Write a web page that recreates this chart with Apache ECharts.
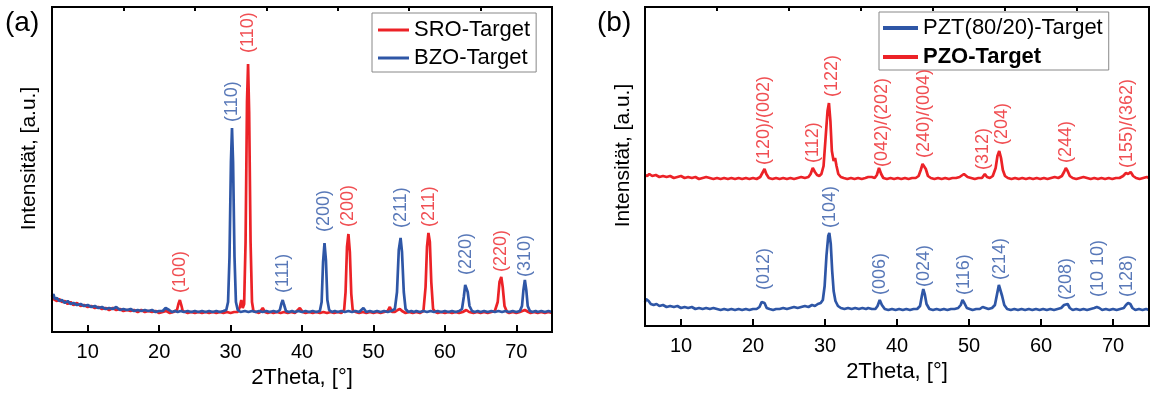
<!DOCTYPE html>
<html>
<head>
<meta charset="utf-8">
<script src="https://cdn.jsdelivr.net/npm/echarts@6/dist/echarts.min.js"></script>
<style>html,body{margin:0;padding:0;background:#fff;}#c{width:1152px;height:394px;}</style>
</head>
<body>
<div id="c"></div>
<script>
// ---------- data ----------
const xTickLabels = [10, 20, 30, 40, 50, 60, 70];
const xMinorTicks = [15, 25, 35, 45, 55, 65];

// Panel (a)
const sroTarget = [[5,37],[5.2,33],[5.4,35],[5.7,31],[6,33],[6.4,30],[6.8,31],[7.2,28],[7.6,30],[8,27],[8.5,29],[9,26],[9.5,27],[10,25],[10.5,26],[11,24],[11.5,25],[12,23],[12.5,24],[13,22],[13.5,24],[14,22],[14.5,23],[15,21],[15.5,22],[16,21],[16.5,22],[17,20],[17.5,22],[18,20],[18.5,21],[19,20],[19.5,21],[20,19],[20.5,20],[21,21],[21.5,19],[22,20],[22.5,22],[22.7,28],[22.9,32],[23.1,27],[23.3,21],[23.7,20],[24,19],[24.5,20],[25,19],[25.5,20],[26,19],[26.5,20],[27,19],[27.5,20],[28,19],[28.5,20],[29,19],[29.5,20],[30,19],[30.5,20],[31,20],[31.3,25],[31.5,32],[31.7,24],[31.9,28],[32.1,90],[32.3,230],[32.45,268],[32.6,220],[32.8,90],[33.0,30],[33.2,21],[33.6,20],[34,19],[34.5,24],[34.8,20],[35.2,19],[35.6,20],[36,19],[36.5,20],[37,19],[37.5,20],[38,19],[38.5,20],[39,19],[39.7,24],[40.1,20],[40.5,19],[41,20],[41.5,19],[42,20],[42.5,19],[43,20],[43.5,19],[44,20],[44.5,19],[45,20],[45.5,19],[45.9,22],[46.1,40],[46.3,85],[46.5,98],[46.7,80],[46.9,38],[47.1,22],[47.5,20],[48,19],[48.5,20],[49,19],[49.5,20],[50,19],[50.5,20],[51,19],[51.5,20],[52,21],[52.3,25],[52.6,20],[53,20],[53.4,22],[53.7,23],[54,21],[54.5,19],[55,20],[55.5,19],[56,20],[56.5,19],[57,21],[57.3,45],[57.5,85],[57.7,99],[57.9,90],[58.1,50],[58.35,23],[58.7,20],[59,19],[59.5,20],[60,19],[60.5,20],[61,19],[61.5,20],[62,19],[62.5,20],[63,22],[63.4,20],[64,19],[64.5,20],[65,19],[65.5,20],[66,19],[66.5,20],[67,21],[67.4,30],[67.65,50],[67.9,55],[68.1,45],[68.35,26],[68.7,20],[69,19],[69.5,20],[70,19],[70.5,20],[71.2,22],[71.7,20],[72,19],[72.5,20],[73,19],[73.5,20],[74,19],[74.5,20],[75,19]];
const bzoTarget = [[5,35],[5.2,38],[5.4,33],[5.7,34],[6,31],[6.4,32],[6.8,29],[7.2,31],[7.6,28],[8,29],[8.5,27],[9,28],[9.5,26],[10,27],[10.5,25],[11,26],[11.5,24],[12,25],[12.5,23],[13,24],[13.5,23],[14,25],[14.5,22],[15,23],[15.5,22],[16,23],[16.5,21],[17,22],[17.5,21],[18,22],[18.5,21],[19,22],[19.5,20],[20,21],[20.5,21],[20.9,24],[21.1,26],[21.4,22],[21.8,20],[22.2,21],[22.6,20],[23,21],[23.5,20],[24,21],[24.5,20],[25,21],[25.5,20],[26,21],[26.5,20],[27,21],[27.5,20],[28,21],[28.5,20],[29,21],[29.4,22],[29.65,30],[29.85,75],[30.05,170],[30.2,204],[30.35,170],[30.55,75],[30.75,30],[31.0,22],[31.4,20],[32,21],[32.5,20],[33,21],[33.5,20],[34,21],[34.5,20],[35,21],[35.5,20],[36,21],[36.5,20],[36.9,22],[37.1,28],[37.3,32],[37.5,27],[37.75,21],[38.2,20],[38.6,21],[39,20],[39.5,21],[40,20],[40.5,21],[41,20],[41.5,21],[42,20],[42.5,21],[42.75,30],[42.95,70],[43.15,89],[43.35,72],[43.55,32],[43.8,22],[44.2,20],[44.6,21],[45,20],[45.5,21],[46,20],[46.5,21],[47,20],[47.5,21],[48,20],[48.6,24],[49,20],[49.5,21],[50,20],[50.5,21],[51,20],[51.5,21],[52,20],[52.5,21],[53,23],[53.3,40],[53.55,82],[53.8,94],[54.0,80],[54.25,40],[54.5,23],[54.9,20],[55.3,21],[55.7,20],[56,21],[56.5,20],[57,21],[57.5,20],[58,21],[58.5,20],[59,21],[59.5,20],[60,21],[60.5,20],[61,21],[61.5,20],[62,21],[62.4,23],[62.65,35],[62.85,47],[63.0,49],[63.2,40],[63.45,26],[63.8,21],[64.2,20],[64.6,21],[65,20],[65.5,21],[66,20],[66.5,21],[67,20],[67.5,21],[68,20],[68.5,21],[69,20],[69.5,21],[70,20],[70.5,21],[70.8,26],[71.0,42],[71.2,52],[71.4,42],[71.6,26],[71.9,21],[72.3,20],[72.7,21],[73,20],[73.5,21],[74,20],[74.5,21],[75,20]];
const sroLabels = [[22.9,39,'(100)'],[32.45,279,'(110)'],[46.5,105,'(200)'],[57.8,105,'(211)'],[67.9,60,'(220)']];
const bzoLabels = [[30.25,210,'(110)'],[37.3,39,'(111)'],[43.15,100,'(200)'],[53.8,104,'(211)'],[63.0,57,'(220)'],[71.2,55,'(310)']];

// Panel (b)
const pztTarget = [[5,24],[5.15,27],[5.3,29],[5.5,25],[5.8,22],[6.2,21],[6.6,22],[7,20],[7.5,21],[8,19],[8.5,20],[9,19],[9.5,20],[10,18],[10.5,19],[11,18],[11.5,19],[12,17],[12.5,18],[13,17],[13.5,18],[14,17],[14.5,18],[15,17],[15.5,16],[16,17],[16.5,16],[17,17],[17.5,16],[18,17],[18.5,16],[19,17],[19.5,16],[20,17],[20.5,17],[20.9,19],[21.2,24],[21.4,26],[21.6,23],[21.9,18],[22.3,17],[22.8,16],[23.2,17],[23.7,17],[24.2,18],[24.7,17],[25.2,18],[25.7,19],[26.2,18],[26.7,19],[27.2,20],[27.7,19],[28.2,21],[28.6,20],[29,22],[29.4,23],[29.7,26],[29.95,40],[30.2,70],[30.45,90],[30.6,93],[30.8,82],[31.0,55],[31.2,35],[31.45,25],[31.8,20],[32.2,18],[32.7,17],[33.2,18],[33.7,17],[34.2,18],[34.7,17],[35.2,18],[35.7,17],[36.0,18],[36.25,20],[36.5,17],[37,17],[37.3,20],[37.6,26],[37.9,21],[38.3,17],[38.8,16],[39.3,17],[39.8,16],[40.3,17],[40.8,16],[41.3,17],[41.8,16],[42.3,17],[42.8,17],[43.2,20],[43.45,30],[43.65,37],[43.85,32],[44.1,22],[44.5,17],[45,16],[45.5,17],[46,16],[46.5,17],[47,16],[47.5,17],[48,17],[48.5,18],[48.85,21],[49.1,26],[49.35,23],[49.7,18],[50.1,17],[50.5,16],[51,17],[51.5,17],[51.9,19],[52.3,18],[52.7,17],[53.2,18],[53.6,21],[53.9,32],[54.15,41],[54.35,40],[54.6,30],[54.9,21],[55.3,17],[55.8,16],[56.3,17],[56.8,16],[57.3,17],[57.8,16],[58.3,17],[58.8,16],[59.3,17],[59.8,16],[60.3,17],[60.8,16],[61.3,17],[61.8,16],[62.3,17],[62.8,18],[63.2,21],[63.45,23],[63.7,22],[64,18],[64.4,16],[64.9,17],[65.4,16],[65.9,17],[66.4,16],[66.9,17],[67.4,18],[67.75,19],[68.1,18],[68.5,16],[69,17],[69.5,16],[70,17],[70.5,16],[71,17],[71.5,18],[71.8,21],[72.1,23],[72.4,22],[72.7,18],[73.1,16],[73.6,17],[74.1,16],[74.6,17],[75,16]];
const pzoTarget = [[5,151],[5.3,150],[5.6,152],[6,150],[6.5,151],[7,149],[7.5,150],[8,149],[8.5,150],[9,148],[9.5,149],[10,150],[10.5,148],[11,149],[11.5,148],[12,149],[12.5,147],[13,148],[13.5,149],[14,148],[14.5,147],[15,148],[15.5,147],[16,148],[16.5,147],[17,148],[17.5,147],[18,148],[18.5,147],[19,148],[19.5,147],[20,148],[20.5,147],[21,149],[21.3,153],[21.6,157],[21.85,152],[22.2,148],[22.7,147],[23.2,148],[23.7,147],[24.2,148],[24.7,147],[25.2,148],[25.7,147],[26.2,148],[26.7,149],[27.2,148],[27.7,149],[28.0,152],[28.3,158],[28.6,154],[28.9,151],[29.2,150],[29.5,152],[29.8,160],[30.1,190],[30.35,215],[30.55,223],[30.75,205],[30.95,175],[31.2,165],[31.4,168],[31.6,160],[31.85,152],[32.2,149],[32.6,148],[33.1,147],[33.6,148],[34.1,147],[34.6,148],[35.1,147],[35.6,148],[36.0,149],[36.25,151],[36.5,149],[36.9,148],[37.2,151],[37.5,158],[37.8,152],[38.1,148],[38.6,147],[39.1,148],[39.6,147],[40.1,148],[40.6,147],[41.1,148],[41.6,147],[42.1,148],[42.6,148],[43.0,150],[43.3,156],[43.55,162],[43.75,163],[44.0,157],[44.3,150],[44.7,148],[45.2,147],[45.7,148],[46.2,147],[46.7,148],[47.2,147],[47.7,148],[48.2,148],[48.7,149],[49.3,152],[49.8,149],[50.3,148],[50.8,147],[51.3,148],[51.8,148],[52.2,152],[52.5,149],[52.9,148],[53.3,150],[53.7,158],[53.95,170],[54.2,175],[54.45,168],[54.7,156],[55.0,150],[55.4,148],[55.9,147],[56.4,148],[56.9,147],[57.4,148],[57.9,147],[58.4,148],[58.9,147],[59.4,148],[59.9,147],[60.4,148],[60.9,147],[61.4,148],[61.9,149],[62.4,148],[62.9,150],[63.2,154],[63.45,158],[63.7,155],[64.0,150],[64.4,148],[64.9,147],[65.4,148],[65.9,149],[66.4,148],[66.9,147],[67.4,148],[67.9,147],[68.4,148],[68.9,147],[69.4,148],[69.9,147],[70.4,148],[70.9,148],[71.4,150],[71.8,153],[72.1,152],[72.45,154],[72.8,150],[73.2,148],[73.7,147],[74.2,148],[74.7,149],[75,148]];
const pzoLabels = [[21.6,161,'(120)/(002)'],[28.3,163,'(112)'],[31.0,229,'(122)'],[37.9,159,'(042)/(202)'],[43.7,168,'(240)/(004)'],[52.0,156,'(312)'],[54.6,181,'(204)'],[63.5,163,'(244)'],[72.0,158,'(155)/(362)']];
const pztLabels = [[21.5,36,'(012)'],[30.7,98,'(104)'],[37.7,31,'(006)'],[43.7,39,'(024)'],[49.3,31,'(116)'],[54.3,46,'(214)'],[63.5,26,'(208)'],[67.9,29,'(10 10)'],[72.0,29,'(128)']];

// ---------- styles ----------
const RED = '#ec2227';
const BLUE = '#2e56a6';
const FONT = 'Liberation Sans, Arial, sans-serif';

function mainX(gridIndex) {
  return {
    type: 'value', gridIndex, min: 5, max: 75,
    name: '2Theta, [°]', nameLocation: 'middle', nameGap: 32,
    nameTextStyle: { fontSize: 22, color: '#000', fontFamily: FONT },
    axisLine: { show: false },
    axisTick: { show: true, inside: true, length: 7, customValues: xTickLabels, lineStyle: { color: '#000', width: 2 } },
    axisLabel: { show: true, customValues: xTickLabels, margin: 10, fontSize: 20, color: '#000', fontFamily: FONT },
    splitLine: { show: false }
  };
}
function minorX(gridIndex) {
  return {
    type: 'value', gridIndex, min: 5, max: 75,
    axisLine: { show: false },
    axisTick: { show: true, inside: true, length: 4, customValues: xMinorTicks, lineStyle: { color: '#000', width: 2 } },
    axisLabel: { show: false },
    splitLine: { show: false }
  };
}
function yAx(gridIndex, max, gap, shift) {
  return {
    type: 'value', gridIndex, min: 0, max,
    name: 'Intensität, [a.u.]', nameLocation: 'middle', nameGap: gap,
    nameTextStyle: { fontSize: 21, color: '#000', fontFamily: FONT, padding: [0, 0, 0, shift] },
    axisLine: { show: false }, axisTick: { show: false }, axisLabel: { show: false }, splitLine: { show: false }
  };
}
function lineSeries(name, data, color, xIdx, yIdx) {
  return {
    name, type: 'line', data, xAxisIndex: xIdx, yAxisIndex: yIdx,
    showSymbol: false, symbol: 'none', color,
    lineStyle: { color, width: 2.7 }, animation: false, z: 3
  };
}
function labelSeries(arr, color, xIdx, yIdx) {
  return {
    type: 'scatter', xAxisIndex: xIdx, yAxisIndex: yIdx, symbolSize: 0, silent: true, animation: false, z: 4,
    data: arr.map(d => ({ value: [d[0], d[1]], name: d[2] })),
    label: {
      show: true, formatter: '{b}', position: 'top', distance: 0, rotate: 90,
      align: 'left', verticalAlign: 'middle', color, fontSize: 18, fontFamily: FONT
    }
  };
}

const chart = echarts.init(document.getElementById('c'), null, { renderer: 'canvas' });
chart.setOption({
  animation: false,
  backgroundColor: '#fff',
  textStyle: { fontFamily: FONT },
  title: [
    { text: '(a)', left: 5, top: 9, padding: 0, textStyle: { fontSize: 28, fontWeight: 'normal', color: '#000', fontFamily: FONT } },
    { text: '(b)', left: 597, top: 9, padding: 0, textStyle: { fontSize: 28, fontWeight: 'normal', color: '#000', fontFamily: FONT } }
  ],
  grid: [
    { left: 52, top: 7, width: 500, height: 325, show: true, borderColor: '#000', borderWidth: 2, backgroundColor: 'transparent', z: 5 },
    { left: 645, top: 7, width: 504, height: 319, show: true, borderColor: '#000', borderWidth: 2, backgroundColor: 'transparent', z: 5 }
  ],
  legend: [
    {
      data: ['SRO-Target', 'BZO-Target'], orient: 'vertical', left: 372, top: 13,
      padding: [5, 6, 2, 6], itemGap: 4, itemWidth: 31, itemHeight: 3, icon: 'rect',
      borderColor: '#888', borderWidth: 1, backgroundColor: '#fff',
      textStyle: { fontSize: 22, color: '#000', fontFamily: FONT, lineHeight: 24 }
    },
    {
      data: [{ name: 'PZT(80/20)-Target' }, { name: 'PZO-Target', textStyle: { fontWeight: 'bold' } }],
      orient: 'vertical', left: 879, top: 12,
      padding: [4, 6, 1, 4], itemGap: 5, itemWidth: 35, itemHeight: 4, icon: 'rect',
      borderColor: '#888', borderWidth: 1, backgroundColor: '#fff',
      textStyle: { fontSize: 22, color: '#000', fontFamily: FONT, lineHeight: 24 }
    }
  ],
  xAxis: [mainX(0), minorX(0), mainX(1), minorX(1)],
  yAxis: [yAx(0, 325, 12.5, 22), yAx(1, 319, 11.5, 22)],
  series: [
    lineSeries('SRO-Target', sroTarget, RED, 0, 0),
    lineSeries('BZO-Target', bzoTarget, BLUE, 0, 0),
    labelSeries(sroLabels, RED, 0, 0),
    labelSeries(bzoLabels, BLUE, 0, 0),
    lineSeries('PZO-Target', pzoTarget, RED, 2, 1),
    lineSeries('PZT(80/20)-Target', pztTarget, BLUE, 2, 1),
    labelSeries(pzoLabels, RED, 2, 1),
    labelSeries(pztLabels, BLUE, 2, 1)
  ]
});
</script>
</body>
</html>
